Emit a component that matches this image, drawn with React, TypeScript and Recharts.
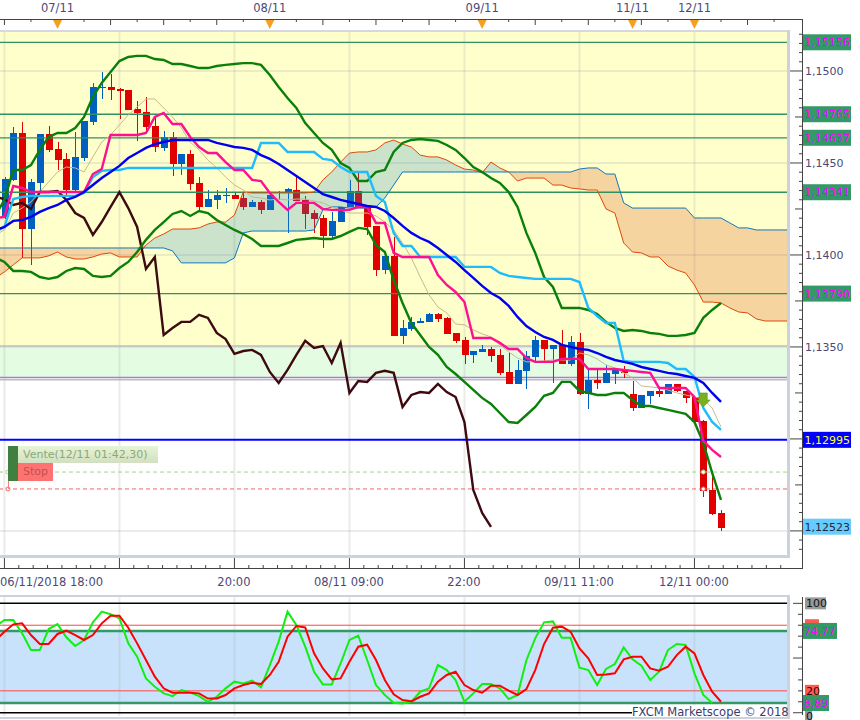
import React from "react"
import {
  Area,
  Bar,
  ComposedChart,
  Line,
  ReferenceArea,
  ReferenceDot,
  ReferenceLine,
  XAxis,
  YAxis,
} from "recharts"

// hourly candles, index 0 = 06/11/2018 18:00
const opens = [
  1.14206, 1.14408, 1.14663, 1.14141, 1.14391, 1.14658, 1.14576, 1.14522, 1.14353, 1.14527,
  1.14723, 1.14908, 1.14913, 1.14902, 1.14897, 1.14793, 1.14777, 1.14701, 1.14582, 1.14641,
  1.14495, 1.14549, 1.14391, 1.14261, 1.14299, 1.14321, 1.14326, 1.1431, 1.14261, 1.14288,
  1.14245, 1.14337, 1.14337, 1.14353, 1.14299, 1.14228, 1.14201, 1.14103, 1.14179, 1.14261,
  1.14348, 1.14261, 1.14158, 1.13918, 1.13994, 1.1356, 1.13598, 1.1363, 1.13636, 1.13679,
  1.13658, 1.13576, 1.13538, 1.13457, 1.13473, 1.13489, 1.13457, 1.13364, 1.13299, 1.1337,
  1.13446, 1.13538, 1.13489, 1.13511, 1.13408, 1.13527, 1.13245, 1.13321, 1.13304, 1.13354,
  1.13375, 1.13245, 1.13169, 1.13234, 1.13261, 1.13245, 1.13299, 1.13261, 1.13228, 1.13098, 1.12723, 1.12598,
]
const closes = [
  1.14414, 1.14663, 1.14141, 1.14397, 1.14658, 1.14571, 1.14516, 1.14353, 1.14533, 1.14728,
  1.14913, 1.14913, 1.14897, 1.14891, 1.14788, 1.14772, 1.14696, 1.14587, 1.14641, 1.14495,
  1.14549, 1.14386, 1.14261, 1.14304, 1.14326, 1.14326, 1.14304, 1.14261, 1.14288, 1.14245,
  1.14326, 1.14342, 1.14359, 1.14293, 1.14223, 1.14196, 1.14103, 1.14185, 1.14261, 1.14348,
  1.14261, 1.14152, 1.13918, 1.13994, 1.1356, 1.13603, 1.13636, 1.13641, 1.13679, 1.13652,
  1.13571, 1.13533, 1.13457, 1.13478, 1.13489, 1.13451, 1.13359, 1.13299, 1.13375, 1.13451,
  1.13538, 1.13489, 1.13511, 1.13408, 1.13527, 1.13245, 1.13321, 1.13304, 1.13359, 1.13375,
  1.13359, 1.13169, 1.13239, 1.13261, 1.13245, 1.13299, 1.13261, 1.13223, 1.13092, 1.12717, 1.12592, 1.12516,
]
const highs = [
  1.14424, 1.14696, 1.14723, 1.14414, 1.14658, 1.14701, 1.14614, 1.14554, 1.14669, 1.14728,
  1.14935, 1.14995, 1.14984, 1.14908, 1.14897, 1.14837, 1.14859, 1.14755, 1.14674, 1.14669,
  1.14549, 1.14571, 1.14424, 1.14353, 1.14353, 1.14364, 1.14342, 1.14342, 1.14299, 1.14299,
  1.14337, 1.14348, 1.14364, 1.14435, 1.14321, 1.14245, 1.14217, 1.14234, 1.14261, 1.14408,
  1.14457, 1.14266, 1.14158, 1.13994, 1.14098, 1.13647, 1.13663, 1.13658, 1.13685, 1.13685,
  1.13663, 1.13576, 1.13554, 1.13478, 1.13511, 1.135, 1.13489, 1.13467, 1.13429, 1.13478,
  1.1356, 1.13538, 1.13511, 1.13592, 1.1356, 1.13576, 1.13375, 1.13375, 1.13402, 1.13386,
  1.13397, 1.13315, 1.13239, 1.13261, 1.13283, 1.13299, 1.13299, 1.13261, 1.13228, 1.13103, 1.12793, 1.12614,
]
const lows = [
  1.14196, 1.14402, 1.13984, 1.13946, 1.14342, 1.1456, 1.14462, 1.14326, 1.14342, 1.14511,
  1.14706, 1.14848, 1.14842, 1.14739, 1.14788, 1.1462, 1.14674, 1.1456, 1.14565, 1.14429,
  1.14435, 1.14353, 1.14245, 1.14261, 1.1425, 1.14283, 1.14304, 1.14245, 1.14261, 1.14223,
  1.14245, 1.14299, 1.1412, 1.14293, 1.14141, 1.1412, 1.14038, 1.14087, 1.14179, 1.14261,
  1.14261, 1.14109, 1.13886, 1.13897, 1.1356, 1.13516, 1.13587, 1.1363, 1.13636, 1.13636,
  1.13571, 1.13522, 1.13408, 1.13413, 1.13473, 1.13419, 1.13348, 1.13299, 1.13299, 1.13272,
  1.13413, 1.13424, 1.13304, 1.13408, 1.13397, 1.13239, 1.13163, 1.13272, 1.13304, 1.13299,
  1.13332, 1.13152, 1.13169, 1.1319, 1.13228, 1.13245, 1.13256, 1.13196, 1.13092, 1.12685, 1.12587, 1.125,
]

// indicator lists start one slot earlier (index -1), they run off the left edge
const tenkan = [
  1.14201,
  1.14207, 1.14375, 1.14364, 1.14342, 1.14342, 1.14342, 1.14342, 1.14342, 1.14342, 1.14342,
  1.1444, 1.14467, 1.14652, 1.14652, 1.14652, 1.14652, 1.14663, 1.1475, 1.14772, 1.14712,
  1.14712, 1.14641, 1.14587, 1.14554, 1.14554, 1.14505, 1.14462, 1.14462, 1.14408, 1.14402,
  1.14337, 1.14288, 1.14245, 1.14283, 1.14283, 1.14283, 1.1425, 1.14245, 1.14245, 1.14245,
  1.14261, 1.14261, 1.14174, 1.14174, 1.14011, 1.13989, 1.13989, 1.13989, 1.13989, 1.13891,
  1.13837, 1.13799, 1.13744, 1.13549, 1.13549, 1.13549, 1.13522, 1.13489, 1.13489, 1.1344,
  1.13419, 1.13419, 1.13419, 1.13435, 1.13435, 1.13435, 1.1338, 1.1338, 1.1338, 1.1338,
  1.13375, 1.1337, 1.13364, 1.13359, 1.13277, 1.13277, 1.13277, 1.13277, 1.13228, 1.12989, 1.1294, 1.12902,
]
const kijun = [
  1.14125,
  1.14152, 1.14304, 1.14315, 1.14321, 1.14321, 1.14321, 1.14321, 1.14321, 1.14321, 1.14337,
  1.14424, 1.14457, 1.14462, 1.14462, 1.14473, 1.14473, 1.14473, 1.14473, 1.14473, 1.14473,
  1.14473, 1.14473, 1.14473, 1.14473, 1.14473, 1.14473, 1.14473, 1.14473, 1.14473, 1.14609,
  1.14609, 1.14609, 1.1456, 1.1456, 1.1456, 1.1456, 1.14522, 1.14516, 1.14478, 1.14451,
  1.14451, 1.14451, 1.14321, 1.14288, 1.1412, 1.14049, 1.14049, 1.13989, 1.13989, 1.13989,
  1.13989, 1.13989, 1.13935, 1.13935, 1.13935, 1.13935, 1.13902, 1.13886, 1.1388, 1.13875,
  1.1387, 1.1387, 1.1387, 1.1387, 1.1387, 1.13853, 1.13712, 1.13668, 1.1363, 1.1363,
  1.13424, 1.13419, 1.13419, 1.13419, 1.13419, 1.13413, 1.1338, 1.1338, 1.13337, 1.13168, 1.13092, 1.13049,
]
const movingAvg = [
  1.14136,
  1.14152, 1.14185, 1.1419, 1.14207, 1.14234, 1.14255, 1.14272, 1.14299, 1.14315, 1.14342,
  1.1438, 1.14418, 1.14451, 1.14484, 1.14527, 1.14554, 1.14582, 1.14603, 1.14614, 1.14625,
  1.14625, 1.14625, 1.14625, 1.14625, 1.14609, 1.14598, 1.14587, 1.14582, 1.14571, 1.14543,
  1.14522, 1.14495, 1.14462, 1.14429, 1.14397, 1.14364, 1.14331, 1.14315, 1.14299, 1.14288,
  1.14277, 1.14266, 1.14261, 1.14239, 1.14201, 1.14158, 1.1412, 1.14092, 1.14071, 1.14038,
  1.14, 1.13962, 1.13918, 1.13875, 1.13832, 1.13793, 1.13766, 1.13723, 1.13663, 1.13614,
  1.13581, 1.13554, 1.13538, 1.13511, 1.135, 1.13489, 1.13484, 1.13467, 1.13446, 1.13429,
  1.13419, 1.13408, 1.13391, 1.1338, 1.1337, 1.13359, 1.13353, 1.13342, 1.13332, 1.13304, 1.1325, 1.13201,
]
const fastAvg = [
  1.14109,
  1.14136, 1.14228, 1.14255, 1.14288, 1.14342, 1.14397, 1.14451, 1.14478, 1.14473, 1.14451,
  1.14533, 1.14614, 1.14652, 1.14707, 1.14761, 1.14804, 1.14848, 1.14848, 1.14799, 1.1475,
  1.1469, 1.14614, 1.14571, 1.14516, 1.14473, 1.14424, 1.1438, 1.14353, 1.14315, 1.1431,
  1.14299, 1.14304, 1.14299, 1.14304, 1.14304, 1.14293, 1.14283, 1.14261, 1.14245, 1.14228,
  1.14228, 1.14228, 1.14212, 1.14179, 1.14136, 1.14065, 1.13984, 1.1388, 1.13783, 1.13717,
  1.13685, 1.13625, 1.1362, 1.13592, 1.13571, 1.13554, 1.13511, 1.13473, 1.1344, 1.13419,
  1.13419, 1.13424, 1.13429, 1.13429, 1.13429, 1.13467, 1.13457, 1.13435, 1.13402, 1.13386,
  1.13359, 1.13332, 1.13288, 1.13283, 1.13277, 1.13266, 1.1325, 1.13239, 1.13228, 1.13217, 1.13168, 1.13065,
]
const bandUpper = [
  1.14217,
  1.14299, 1.14462, 1.14462, 1.14489, 1.14571, 1.14641, 1.14663, 1.14663, 1.1469, 1.1475,
  1.14859, 1.14935, 1.14995, 1.15054, 1.15076, 1.15082, 1.15082, 1.15065, 1.1506, 1.15038,
  1.15038, 1.15027, 1.15016, 1.15016, 1.15027, 1.15033, 1.15038, 1.15043, 1.15043, 1.15033,
  1.14978, 1.14913, 1.14853, 1.14799, 1.14717, 1.14663, 1.14609, 1.14571, 1.145, 1.14473,
  1.14402, 1.14402, 1.14451, 1.14462, 1.1456, 1.14609, 1.14625, 1.1463, 1.14625, 1.1462,
  1.14598, 1.14571, 1.14527, 1.14478, 1.14451, 1.14418, 1.14391, 1.14342, 1.14261, 1.1412,
  1.14011, 1.1388, 1.13826, 1.13712, 1.13712, 1.13712, 1.13701, 1.13679, 1.13636, 1.13603,
  1.13587, 1.13592, 1.13587, 1.13576, 1.13571, 1.1356, 1.1356, 1.13565, 1.13576, 1.13658, 1.13701, 1.13739,
]
const bandLower = [
  1.13984,
  1.13962, 1.13913, 1.13913, 1.13908, 1.1388, 1.1387, 1.1388, 1.13913, 1.13929, 1.13924,
  1.13886, 1.1388, 1.13886, 1.13929, 1.13962, 1.14016, 1.14082, 1.14136, 1.14179, 1.14223,
  1.14239, 1.14212, 1.14239, 1.14228, 1.1419, 1.14163, 1.14136, 1.14114, 1.14087, 1.14049,
  1.14049, 1.14049, 1.14065, 1.14082, 1.14087, 1.14092, 1.14087, 1.14087, 1.14103, 1.14125,
  1.14147, 1.14141, 1.14054, 1.14016, 1.13864, 1.13739, 1.1363, 1.13565, 1.135, 1.13457,
  1.13391, 1.13353, 1.1331, 1.13266, 1.13223, 1.1319, 1.13141, 1.13092, 1.13087, 1.1313,
  1.13174, 1.13234, 1.1325, 1.1331, 1.1331, 1.13261, 1.1325, 1.13239, 1.13239, 1.1325,
  1.1325, 1.13212, 1.13179, 1.13179, 1.13168, 1.13158, 1.13147, 1.13136, 1.13092, 1.12978, 1.12815, 1.12668,
]
const chikou = [
  1.14315,
  1.14304, 1.14272, 1.14283, 1.1425, 1.14342, 1.14342, 1.14348, 1.14299, 1.14228, 1.14201,
  1.14109, 1.14179, 1.14261, 1.14342, 1.14255, 1.14152, 1.13924, 1.13989, 1.13565, 1.13603,
  1.13636, 1.13636, 1.13674, 1.13658, 1.13576, 1.13543, 1.13462, 1.13478, 1.13484, 1.13457,
  1.13364, 1.13304, 1.13375, 1.13457, 1.13533, 1.13495, 1.13505, 1.13413, 1.13522, 1.1325,
  1.13315, 1.1331, 1.13359, 1.1337, 1.13359, 1.13174, 1.13239, 1.13255, 1.1325, 1.13299,
  1.13255, 1.13228, 1.13092, 1.12723, 1.12598, 1.12522,
]
// cloud runs 8 slots past the last candle
const spanA = [
  1.13875,
  1.13908, 1.13946, 1.13984, 1.13984, 1.13984, 1.13995, 1.14016, 1.13989, 1.13978, 1.13978,
  1.13989, 1.14005, 1.14011, 1.13989, 1.13989, 1.13989, 1.14054, 1.14092, 1.14114, 1.14141,
  1.14141, 1.14141, 1.14147, 1.14168, 1.14179, 1.14179, 1.14217, 1.14342, 1.14337, 1.14337,
  1.14337, 1.14337, 1.14337, 1.14337, 1.14337, 1.14342, 1.14408, 1.14451, 1.14505, 1.14554,
  1.1456, 1.1456, 1.14571, 1.14609, 1.14625, 1.14603, 1.14587, 1.14543, 1.14533, 1.14533,
  1.14516, 1.14489, 1.14467, 1.14462, 1.14446, 1.14505, 1.14473, 1.14451, 1.14402, 1.14418,
  1.14418, 1.14418, 1.1438, 1.1438, 1.14364, 1.14359, 1.14353, 1.14353, 1.1425, 1.14228,
  1.14065, 1.14016, 1.14011, 1.13989, 1.13989, 1.1394, 1.13918, 1.13902, 1.13837, 1.13744,
  1.13744, 1.13739, 1.13712, 1.1369, 1.13685, 1.13652, 1.13641, 1.13641, 1.13641, 1.13641,
]
const spanB = [
  1.14038,
  1.14038, 1.14038, 1.14038, 1.14038, 1.14038, 1.14038, 1.14038, 1.14038, 1.14038, 1.14038,
  1.14038, 1.14038, 1.14038, 1.14038, 1.14038, 1.14038, 1.14038, 1.14038, 1.14038, 1.14022,
  1.13957, 1.13957, 1.13957, 1.13957, 1.13957, 1.13957, 1.13984, 1.1412, 1.1413, 1.1413,
  1.1413, 1.1413, 1.1413, 1.1413, 1.1413, 1.14136, 1.14245, 1.14261, 1.14261, 1.14255,
  1.14255, 1.14255, 1.14261, 1.1431, 1.1438, 1.14451, 1.14451, 1.14451, 1.14451, 1.14451,
  1.14451, 1.14451, 1.14451, 1.14451, 1.14451, 1.14451, 1.14451, 1.14451, 1.14451, 1.14451,
  1.14451, 1.14451, 1.14451, 1.14451, 1.14451, 1.14467, 1.14473, 1.14473, 1.1444, 1.1444,
  1.14283, 1.14255, 1.14255, 1.14255, 1.14255, 1.14255, 1.14255, 1.14255, 1.14201, 1.14201,
  1.14201, 1.14201, 1.14174, 1.14147, 1.14147, 1.14136, 1.14136, 1.14136, 1.14136, 1.14136,
]
const stochK = [
  78.7,
  84.8, 84.8, 72.6, 57.3, 57.3, 76.5, 81, 69, 61, 66.5,
  82.6, 92.4, 90, 86.3, 63.4, 51.2, 31.4, 23.8, 17.7, 15.2,
  20.7, 18.6, 15.2, 10, 14.6, 22.3, 28.4, 26.8, 29.3, 23.2,
  43.6, 65, 92.4, 80.2, 60.4, 37.5, 25.9, 25.9, 45, 66.5,
  70.4, 48.2, 25.3, 16.2, 9.1, 8.5, 10, 19.2, 22.3, 43.6,
  39, 29.9, 10, 17.7, 26.2, 26.2, 22.3, 12.5, 16.2, 48,
  68, 82.6, 83.5, 68.6, 68.6, 41.2, 39, 25.3, 40, 44.5,
  59.8, 48.8, 43, 29.9, 37.5, 57.3, 62.8, 61.9, 36, 16.2, 8.89,
]
const stochD = [
  66.5,
  74, 80.8, 81.7, 71, 62.8, 62.8, 72, 75, 71, 66.5,
  71, 81.7, 88.7, 88.7, 77.7, 63.4, 48.2, 33, 22.3, 18.3,
  18.3, 18.3, 17.7, 13, 13, 16.2, 22.3, 25.3, 27.4, 26.2,
  34.5, 46.6, 69.5, 79.3, 78, 54.3, 40.5, 30.5, 31.4, 46.6,
  60.4, 62.2, 48.2, 29.9, 16.8, 11.6, 10.4, 14.6, 17.7, 28.4,
  34.5, 37.5, 25.3, 20.7, 18.3, 24.7, 24.7, 20.1, 16.2, 21.6,
  39, 62.8, 77.7, 78.7, 74, 58.8, 49.7, 34.5, 35, 36,
  48.8, 51.2, 51.2, 40.5, 38.4, 42, 52.7, 60.4, 54.3, 34.5, 19.2, 10,
]

const levelLines = [1.15156, 1.14765, 1.14637, 1.14341, 1.1379]
const gridPrices = [1.15, 1.145, 1.14, 1.135, 1.125]
const gridSlots = [0, 13, 26, 39, 52, 65, 78]
const timeLabels: Record<number, string> = {
  0: "06/11/2018 18:00",
  26: "20:00",
  39: "08/11 09:00",
  52: "22:00",
  65: "09/11 11:00",
  78: "12/11 00:00",
}
const dayMarks: Record<number, string> = { 6: "07/11", 30: "08/11", 54: "09/11", 71: "11/11", 78: "12/11" }
const priceLabels = [1.15, 1.145, 1.14, 1.135]
const priceTags = [
  { value: 1.15156, text: "1,15156", fill: "#339966", color: "#ff00ff" },
  { value: 1.14765, text: "1,14765", fill: "#339966", color: "#ff00ff" },
  { value: 1.14637, text: "1,14637", fill: "#339966", color: "#ff00ff" },
  { value: 1.14341, text: "1,14341", fill: "#339966", color: "#ff00ff" },
  { value: 1.1379, text: "1,13790", fill: "#339966", color: "#ff00ff" },
  { value: 1.12995, text: "1,12995", fill: "#0000ff", color: "#ffff33" },
  { value: 1.12523, text: "1,12523", fill: "#66ccff", color: "#1a2a40" },
]
const stochTags = [
  { value: 100, text: "100", fill: "#999999", color: "#111", x: 805, w: 21, dy: 0 },
  { value: 80, text: "", fill: "#ff5a50", color: "#111", x: 805, w: 14, dy: 0 },
  { value: 74.77, text: "74,77", fill: "#339966", color: "#ff00ff", x: 803, w: 34, dy: 0 },
  { value: 20, text: "20", fill: "#ff5a50", color: "#111", x: 805, w: 14, dy: 0 },
  { value: 0, text: "0", fill: "#999999", color: "#111", x: 805, w: 7, dy: 3 },
  { value: 8.89, text: "8,89", fill: "#339966", color: "#ff00ff", x: 803, w: 26, dy: 0 },
]

const FONT = "'DejaVu Sans', Verdana, sans-serif"
const TEXT = "#4a4a78"
const AXIS = "#444"
const GRID = "rgba(170,170,170,0.24)"
const xDomain = [-0.5, 88.46]

const rows = spanA.map((_, k) => {
  const idx = k - 1
  const hasCandle = idx >= 0 && idx < opens.length
  const a = spanA[k]
  const b = spanB[k]
  return {
    idx,
    range: hasCandle ? [lows[idx], highs[idx]] : null,
    open: hasCandle ? opens[idx] : null,
    close: hasCandle ? closes[idx] : null,
    tenkan: tenkan[k],
    kijun: kijun[k],
    movingAvg: movingAvg[k],
    fastAvg: fastAvg[k],
    bandUpper: bandUpper[k],
    bandLower: bandLower[k],
    chikou: chikou[k],
    spanA: a,
    spanB: b,
    greenCloud: [b, Math.max(a, b)],
    orangeCloud: [a, Math.max(a, b)],
    stochK: stochK[k],
    stochD: stochD[k],
  }
})

function Candle(props: any) {
  const { x, y, width, height, payload } = props
  if (!payload || !payload.range) return null
  const [low, high] = payload.range
  const toY = (v: number) => y + ((high - v) / (high - low)) * height
  const up = payload.close >= payload.open
  const top = toY(Math.max(payload.open, payload.close))
  const bottom = toY(Math.min(payload.open, payload.close))
  const cx = Math.round(x + width / 2)
  const color = up ? "#0060c0" : "#e00000"
  return (
    <g shapeRendering="crispEdges">
      <rect x={cx} y={y} width={1} height={height} fill={color} />
      <rect x={cx - 3} y={top} width={7} height={Math.max(bottom - top, 1)} fill={color} />
    </g>
  )
}

function BottomTick(props: any) {
  const { x, payload } = props
  const major = payload.value % 13 === 0
  const label = timeLabels[payload.value]
  return (
    <g>
      <line x1={x} x2={x} y1={major ? 555 : 565} y2={568} stroke={AXIS} />
      {label ? (
        <text
          x={payload.value === 0 ? 0 : x - 0.5}
          y={586}
          textAnchor={payload.value === 0 ? "start" : "middle"}
          fontFamily={FONT}
          fontSize={11.5}
          fill={TEXT}
        >
          {label}
        </text>
      ) : null}
    </g>
  )
}

function TopTick(props: any) {
  const { x, payload } = props
  const tall = payload.value % 6 === 0
  const mark = dayMarks[payload.value]
  return (
    <g>
      <line x1={x} x2={x} y1={19} y2={tall ? 25 : 22} stroke={AXIS} />
      {mark ? (
        <g>
          <polygon points={`${x - 5},19 ${x + 5},19 ${x},29`} fill="#f5a020" />
          <text x={x} y={12} textAnchor="middle" fontFamily={FONT} fontSize={11.5} fill={TEXT}>
            {mark}
          </text>
        </g>
      ) : null}
    </g>
  )
}

function PriceTick(props: any) {
  const { y, payload } = props
  const tag = priceTags.find((t) => t.value === payload.value)
  if (tag) {
    return (
      <g>
        <rect x={803} y={y - 8} width={48} height={16} fill={tag.fill} />
        <text x={804.5} y={y + 4} fontFamily={FONT} fontSize={11} fill={tag.color}>
          {tag.text}
        </text>
      </g>
    )
  }
  const pips = Math.round(payload.value * 10000)
  const len = pips % 50 === 0 ? 14 : pips % 25 === 0 ? 7 : 3
  const labelled = priceLabels.includes(payload.value)
  return (
    <g>
      <line x1={802 - len} x2={802} y1={y} y2={y} stroke={AXIS} />
      {labelled ? (
        <text x={805} y={y + 4} fontFamily={FONT} fontSize={11} fill={TEXT}>
          {payload.value.toFixed(4).replace(".", ",")}
        </text>
      ) : null}
    </g>
  )
}

function StochTick(props: any) {
  const { y, payload } = props
  const tag = stochTags.find((t) => t.value === payload.value)
  const len = payload.value % 50 === 0 ? 9 : 4
  return (
    <g>
      {Number.isInteger(payload.value) ? <line x1={802 - len} x2={802} y1={y} y2={y} stroke={AXIS} /> : null}
      {tag ? (
        <g>
          <rect
            x={tag.x}
            y={y + tag.dy - (tag.text.includes(",") ? 8 : 6)}
            width={tag.w}
            height={tag.text.includes(",") ? 16 : 12}
            fill={tag.fill}
          />
          <text x={tag.x + 1} y={y + tag.dy + 4} fontFamily={FONT} fontSize={11} fill={tag.color}>
            {tag.text}
          </text>
        </g>
      ) : null}
    </g>
  )
}

function SellArrow(props: any) {
  const { cx, cy } = props
  return (
    <polygon
      points={`${cx - 4},${cy - 7} ${cx + 4},${cy - 7} ${cx + 4},${cy} ${cx + 7},${cy} ${cx},${cy + 7} ${cx - 7},${cy} ${cx - 4},${cy}`}
      fill="#78b020"
      stroke="#5c9018"
      strokeWidth={0.5}
    />
  )
}

// price ticks: every 5 pips, tags come last so they sit above the small ticks
const priceTicks = [
  ...Array.from({ length: 57 }, (_, k) => Number((1.152 - k * 0.0005).toFixed(4))),
  ...priceTags.map((t) => t.value),
]
const bottomTicks = Array.from({ length: 55 }, (_, k) => k * 1.625)
const topTicks = Array.from({ length: 30 }, (_, k) => k * 3).concat([71])
const stochTicks = [10, 30, 40, 50, 60, 70, 90, 100, 80, 74.77, 20, 0, 8.89]

function Frame() {
  const line = (left: number, top: number, width: number, height: number, background = AXIS) => (
    <div style={{ position: "absolute", left, top, width, height, background }} />
  )
  return (
    <>
      {line(0, 19, 803, 1)}
      {line(802, 19, 1, 550)}
      {line(0, 568, 803, 1)}
      {line(802, 597, 1, 118)}
      {line(0, 30, 788, 2, "#d4d8e0")}
      {line(787, 30, 3, 527, "#ccd2dc")}
      {line(0, 555, 790, 3, "#ccd2dc")}
      {line(0, 595, 790, 2, "#ccd2dc")}
      {line(787, 595, 3, 124, "#ccd2dc")}
      {line(0, 717, 790, 2, "#ccd2dc")}
    </>
  )
}

function OrderTags() {
  return (
    <>
      <div style={{ position: "absolute", left: 8, top: 446, width: 10, height: 35, background: "#3f7f3f" }} />
      <div
        style={{
          position: "absolute",
          left: 18,
          top: 446,
          width: 140,
          height: 17,
          background: "linear-gradient(#e8f5d5, #d2dfc0)",
          color: "#8ba878",
          font: `11px ${FONT}`,
          lineHeight: "17px",
          paddingLeft: 5,
          boxSizing: "border-box",
          whiteSpace: "nowrap",
        }}
      >
        Vente(12/11 01:42,30)
      </div>
      <div
        style={{
          position: "absolute",
          left: 18,
          top: 463,
          width: 35,
          height: 18,
          background: "#ff7272",
          color: "#c25050",
          font: `11px ${FONT}`,
          lineHeight: "18px",
          paddingLeft: 5,
          boxSizing: "border-box",
        }}
      >
        Stop
      </div>
      <div style={{ position: "absolute", left: 8, top: 481, width: 1, height: 8, background: "#f08080" }} />
      <div
        style={{
          position: "absolute",
          left: 632,
          top: 705,
          width: 155,
          height: 12,
          background: "#fff",
          color: "#3c3c6c",
          font: `11.5px ${FONT}`,
          lineHeight: "14px",
          whiteSpace: "nowrap",
        }}
      >
        FXCM Marketscope © 2018
      </div>
    </>
  )
}

export default function App() {
  return (
    <div style={{ position: "absolute", left: 0, top: 0, width: 860, height: 720, background: "#fff", overflow: "hidden" }}>
      <div style={{ position: "absolute", left: 0, top: 0 }}>
        <ComposedChart width={860} height={590} data={rows} margin={{ top: 31, right: 0, bottom: 34, left: 0 }}>
          <XAxis
            dataKey="idx"
            type="number"
            domain={xDomain}
            allowDataOverflow
            ticks={bottomTicks}
            interval={0}
            height={1}
            axisLine={false}
            tickLine={false}
            tick={BottomTick}
          />
          <XAxis
            xAxisId="top"
            dataKey="idx"
            type="number"
            orientation="top"
            domain={xDomain}
            allowDataOverflow
            ticks={topTicks}
            interval={0}
            height={1}
            axisLine={false}
            tickLine={false}
            tick={TopTick}
          />
          <YAxis
            orientation="right"
            type="number"
            domain={[1.12369, 1.15212]}
            allowDataOverflow
            ticks={priceTicks}
            interval={0}
            width={73}
            axisLine={false}
            tickLine={false}
            tick={PriceTick}
          />

          <ReferenceArea y1={1.135} y2={1.15212} fill="#ffffcc" fillOpacity={1} stroke="none" />
          <ReferenceArea y1={1.13332} y2={1.135} fill="#e4fde2" fillOpacity={1} stroke="none" />
          {gridSlots.map((v) => (
            <ReferenceLine key={v} x={v} stroke={GRID} strokeWidth={2} zIndex={150} />
          ))}
          {gridPrices.map((v) => (
            <ReferenceLine key={v} y={v} stroke={GRID} strokeWidth={2} zIndex={150} />
          ))}
          <ReferenceLine y={1.13505} stroke="#bdbdc4" strokeWidth={1.5} zIndex={150} />
          <ReferenceLine y={1.13321} stroke="#bdbdc4" strokeWidth={1.5} zIndex={150} />
          <ReferenceLine y={1.13334} stroke="#a77fd0" strokeWidth={1.5} zIndex={150} />

          <Bar dataKey="range" barSize={7} isAnimationActive={false} shape={Candle} />

          <Area dataKey="greenCloud" stroke="none" fill="rgb(38,133,200)" fillOpacity={0.24} isAnimationActive={false} zIndex={310} />
          <Area dataKey="orangeCloud" stroke="none" fill="rgb(214,75,20)" fillOpacity={0.24} isAnimationActive={false} zIndex={310} />

          {levelLines.map((v) => (
            <ReferenceLine key={v} y={v} stroke="#2f9060" strokeWidth={1.3} zIndex={320} />
          ))}
          <ReferenceLine y={1.12995} stroke="#0000ff" strokeWidth={2} zIndex={320} />
          <ReferenceLine y={1.1282} stroke="#a4d484" strokeDasharray="4 3" zIndex={320} />
          <ReferenceLine y={1.12728} stroke="#f06464" strokeDasharray="4 3" zIndex={320} />

          <Line dataKey="spanA" stroke="#e04808" strokeWidth={1} dot={false} isAnimationActive={false} />
          <Line dataKey="spanB" stroke="#0a78c0" strokeWidth={1} dot={false} isAnimationActive={false} />
          <Line dataKey="fastAvg" stroke="#c8b98c" strokeWidth={1} dot={false} isAnimationActive={false} />
          <Line dataKey="chikou" stroke="#3c0a10" strokeWidth={2.4} dot={false} isAnimationActive={false} />
          <Line dataKey="bandUpper" stroke="#0a800a" strokeWidth={2.4} dot={false} isAnimationActive={false} />
          <Line dataKey="bandLower" stroke="#0a800a" strokeWidth={2.4} dot={false} isAnimationActive={false} />
          <Line dataKey="kijun" stroke="#1ebcfa" strokeWidth={2.4} dot={false} isAnimationActive={false} />
          <Line dataKey="tenkan" stroke="#ff1090" strokeWidth={2.4} dot={false} isAnimationActive={false} />
          <Line dataKey="movingAvg" stroke="#0000f0" strokeWidth={2.4} dot={false} isAnimationActive={false} />

          <ReferenceDot x={79} y={1.13212} r={7} shape={SellArrow} zIndex={700} />
          <ReferenceDot x={79} y={1.1282} r={2} fill="#fff" stroke="#a4d484" />
          <ReferenceDot x={79} y={1.12728} r={2} fill="#fff" stroke="#f06464" />
          <ReferenceDot x={0.4} y={1.1282} r={2} fill="#fff" stroke="#a4d484" />
          <ReferenceDot x={0.4} y={1.12728} r={2} fill="#fff" stroke="#f06464" />
        </ComposedChart>
      </div>

      <div style={{ position: "absolute", left: 0, top: 590 }}>
        <ComposedChart width={860} height={130} data={rows} margin={{ top: 7, right: 0, bottom: 4, left: 0 }}>
          <XAxis dataKey="idx" type="number" domain={xDomain} allowDataOverflow height={0} axisLine={false} tickLine={false} tick={false} />
          <YAxis
            orientation="right"
            type="number"
            domain={[-3, 105.8]}
            allowDataOverflow
            ticks={stochTicks}
            interval={0}
            width={73}
            axisLine={false}
            tickLine={false}
            tick={StochTick}
          />
          <ReferenceArea y1={8.89} y2={74.77} fill="#c8e2fb" fillOpacity={1} stroke="none" />
          {gridSlots.map((v) => (
            <ReferenceLine key={v} x={v} stroke={GRID} strokeWidth={2} zIndex={150} />
          ))}
          <ReferenceLine y={100} stroke="#000" strokeWidth={1.5} />
          <ReferenceLine y={0} stroke="#000" strokeWidth={1.5} />
          <ReferenceLine y={80} stroke="#ff4a40" strokeWidth={1} />
          <ReferenceLine y={20} stroke="#ff4a40" strokeWidth={1} />
          <ReferenceLine y={74.77} stroke="#339966" strokeWidth={2.5} />
          <ReferenceLine y={8.89} stroke="#339966" strokeWidth={2.5} />
          <Line dataKey="stochK" stroke="#10f010" strokeWidth={2} dot={false} isAnimationActive={false} />
          <Line dataKey="stochD" stroke="#ff0000" strokeWidth={2} dot={false} isAnimationActive={false} />
        </ComposedChart>
      </div>

      <Frame />
      <OrderTags />
    </div>
  )
}
